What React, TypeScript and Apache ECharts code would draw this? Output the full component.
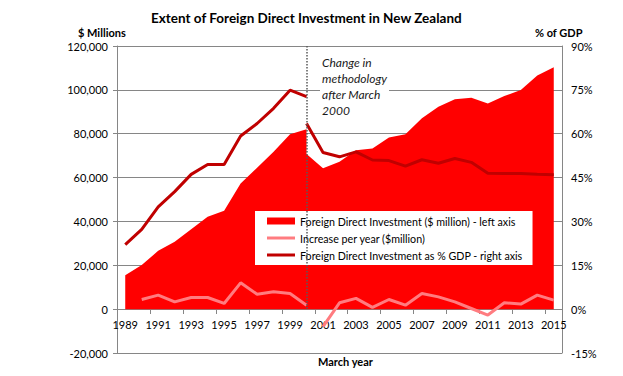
import React, { useEffect, useRef } from "react";
import * as echarts from "echarts";

// Category labels for the x axis (March years)
const yearLabels = [
  "1989", "1990", "1991", "1992", "1993", "1994", "1995", "1996", "1997",
  "1998", "1999", "2000", "2001", "2002", "2003", "2004", "2005", "2006",
  "2007", "2008", "2009", "2010", "2011", "2012", "2013", "2014", "2015",
];

// Foreign Direct Investment ($ million), old methodology up to March 2000
const fdiOldYears = [1989, 1990, 1991, 1992, 1993, 1994, 1995, 1996, 1997, 1998, 1999, 2000];
const fdiOldValues = [15500, 20100, 26600, 30700, 36400, 42100, 44900, 57300, 64500, 71800, 79700, 82000];

// Foreign Direct Investment ($ million), new methodology from March 2000
const fdiNewYears = [2000, 2001, 2002, 2003, 2004, 2005, 2006, 2007, 2008, 2009, 2010, 2011, 2012, 2013, 2014, 2015];
const fdiNewValues = [70700, 64200, 67200, 72500, 73300, 78300, 79800, 87000, 92300, 95700, 96400, 93800, 97200, 99900, 106500, 110300];

// Increase per year ($million)
const incOldYears = [1990, 1991, 1992, 1993, 1994, 1995, 1996, 1997, 1998, 1999, 2000];
const incOldValues = [4400, 6400, 3300, 5300, 5300, 2600, 12000, 6800, 7900, 7100, 1800];
const incNewYears = [2001, 2002, 2003, 2004, 2005, 2006, 2007, 2008, 2009, 2010, 2011, 2012, 2013, 2014, 2015];
const incNewValues = [-8000, 2900, 4900, 800, 4400, 1800, 7100, 5600, 3300, 300, -2700, 2900, 2300, 6400, 4100];

// Foreign Direct Investment as % of GDP
const gdpOldYears = [1989, 1990, 1991, 1992, 1993, 1994, 1995, 1996, 1997, 1998, 1999, 2000];
const gdpOldValues = [22.1, 27.3, 35.0, 40.2, 46.1, 49.5, 49.5, 59.2, 63.5, 68.7, 74.9, 72.7];
const gdpNewYears = [2000, 2001, 2002, 2003, 2004, 2005, 2006, 2007, 2008, 2009, 2010, 2011, 2012, 2013, 2014, 2015];
const gdpNewValues = [63.5, 53.6, 52.1, 53.8, 51.0, 50.8, 48.9, 51.1, 49.9, 51.5, 50.2, 46.5, 46.4, 46.4, 46.1, 46.0];

const fdiName = "Foreign Direct Investment ($ million) - left axis";
const incName = "Increase per year ($million)";
const gdpName = "Foreign Direct Investment as % GDP - right axis";

const pairs = (xs: number[], ys: number[]) => xs.map((x, i) => [x, ys[i]]);

const FONT = "Lato, 'Open Sans', sans-serif";
const LINE_ICON = "path://M0,0L28,0L28,3L0,3Z";

export default function App() {
  const ref = useRef<HTMLDivElement>(null);

  useEffect(() => {
    if (!ref.current) return;
    const chart = echarts.init(ref.current, undefined, { renderer: "svg" });
    const axisGray = "#868686";
    const option: any = {
      animation: false,
      backgroundColor: "#ffffff",
      textStyle: { fontFamily: FONT },
      title: {
        text: "Extent of Foreign Direct Investment in New Zealand",
        left: 146,
        top: 6,
        textStyle: { fontSize: 13.5, fontWeight: "bold", color: "#000", fontFamily: FONT },
      },
      grid: { left: 117, right: 61, top: 46, bottom: 23, containLabel: false },
      xAxis: [
        {
          type: "category",
          data: yearLabels,
          boundaryGap: true,
          position: "bottom",
          offset: -44,
          axisLine: { show: true, onZero: false, lineStyle: { color: axisGray, width: 1 } },
          axisTick: { show: true, interval: 1, length: 5, lineStyle: { color: axisGray } },
          axisLabel: { interval: 1, margin: 10, fontSize: 11, color: "#000", fontFamily: FONT },
          splitLine: { show: false },
        },
        { type: "value", min: 1988.5, max: 2015.5, show: false },
      ],
      yAxis: [
        {
          type: "value",
          min: -20000,
          max: 120000,
          interval: 20000,
          axisLine: { show: true, onZero: false, lineStyle: { color: axisGray } },
          axisTick: { show: true, length: 4, lineStyle: { color: axisGray } },
          axisLabel: {
            fontSize: 11,
            margin: 9,
            color: "#000",
            fontFamily: FONT,
            formatter: (v: number) => v.toLocaleString("en-US"),
          },
          splitLine: { show: true, lineStyle: { color: axisGray, width: 1 } },
        },
        {
          type: "value",
          min: -15,
          max: 90,
          interval: 15,
          position: "right",
          axisLine: { show: true, onZero: false, lineStyle: { color: axisGray } },
          axisTick: { show: true, inside: true, length: 6, lineStyle: { color: axisGray } },
          axisLabel: { fontSize: 11, margin: 9, color: "#000", fontFamily: FONT, formatter: "{value}%" },
          splitLine: { show: false },
        },
      ],
      legend: {
        orient: "vertical",
        left: 255,
        top: 211,
        backgroundColor: "#ffffff",
        padding: [3, 10, 3, 12],
        itemGap: 3,
        itemWidth: 28,
        itemHeight: 7,
        textStyle: { fontSize: 10.7, color: "#000", lineHeight: 14, fontFamily: FONT },
        data: [
          { name: fdiName, icon: "rect" },
          { name: incName, icon: LINE_ICON },
          { name: gdpName, icon: LINE_ICON },
        ],
      },
      series: [
        {
          name: fdiName,
          type: "line",
          xAxisIndex: 1,
          yAxisIndex: 0,
          data: [...pairs(fdiOldYears, fdiOldValues), ...pairs(fdiNewYears, fdiNewValues)],
          symbol: "none",
          lineStyle: { width: 0, color: "#FF0000" },
          itemStyle: { color: "#FF0000" },
          areaStyle: { color: "#FF0000", opacity: 1 },
          markLine: {
            silent: true,
            symbol: "none",
            label: { show: false },
            lineStyle: { type: "dotted", color: "#595959", width: 1.5 },
            data: [[{ coord: [2000, 120000] }, { coord: [2000, 0] }]],
          },
        },
        {
          name: incName,
          type: "line",
          xAxisIndex: 1,
          yAxisIndex: 0,
          data: pairs(incOldYears, incOldValues),
          symbol: "none",
          lineStyle: { width: 3, color: "#FF7C80" },
          itemStyle: { color: "#FF7C80" },
        },
        {
          name: incName,
          type: "line",
          xAxisIndex: 1,
          yAxisIndex: 0,
          data: pairs(incNewYears, incNewValues),
          symbol: "none",
          lineStyle: { width: 3, color: "#FF7C80" },
          itemStyle: { color: "#FF7C80" },
        },
        {
          name: gdpName,
          type: "line",
          xAxisIndex: 1,
          yAxisIndex: 1,
          data: pairs(gdpOldYears, gdpOldValues),
          symbol: "none",
          lineStyle: { width: 3, color: "#C00000" },
          itemStyle: { color: "#C00000" },
        },
        {
          name: gdpName,
          type: "line",
          xAxisIndex: 1,
          yAxisIndex: 1,
          data: pairs(gdpNewYears, gdpNewValues),
          symbol: "none",
          lineStyle: { width: 3, color: "#C00000" },
          itemStyle: { color: "#C00000" },
        },
      ],
      graphic: [
        {
          type: "text",
          left: 320,
          top: 53,
          z: 100,
          style: {
            text: "Change in\nmethodology\nafter March\n2000",
            font: `italic 12px ${FONT}`,
            fill: "#1a1a1a",
            lineHeight: 16,
            backgroundColor: "#ffffff",
            padding: [1, 2, 1, 2],
          },
        },
        {
          type: "text",
          left: 78,
          top: 27,
          z: 100,
          style: { text: "$ Millions", font: `bold 11px ${FONT}`, fill: "#000" },
        },
        {
          type: "text",
          left: 535,
          top: 27,
          z: 100,
          style: { text: "% of GDP", font: `bold 11px ${FONT}`, fill: "#000" },
        },
        {
          type: "text",
          left: 318,
          top: 356,
          z: 100,
          style: { text: "March year", font: `bold 11px ${FONT}`, fill: "#000" },
        },
      ],
    };
    chart.setOption(option);
    return () => {
      chart.dispose();
    };
  }, []);

  return (
    <div
      ref={ref}
      style={{ position: "absolute", left: 0, top: 0, width: 623, height: 376 }}
    />
  );
}
